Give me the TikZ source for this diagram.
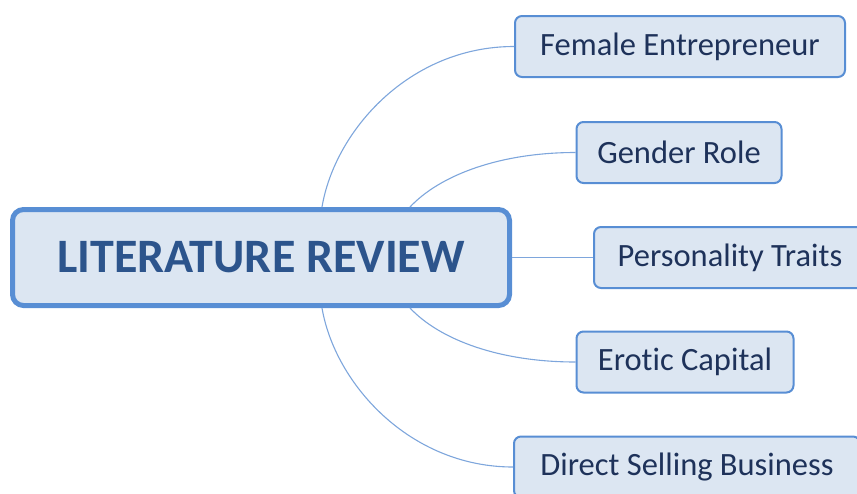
\documentclass[tikz,border=0pt]{standalone}
\usepackage{fontspec}
\setmainfont{Carlito}[Ligatures = {NoCommon, NoRequired}]
\definecolor{boxfill}{RGB}{220,230,242}
\definecolor{boxline}{RGB}{88,142,212}
\definecolor{linkline}{RGB}{126,166,220}
\definecolor{maintext}{RGB}{44,84,140}
\definecolor{subtext}{RGB}{30,50,90}
\tikzset{
    mainbox/.style = {draw = boxline, line width = 5pt, fill = boxfill, rounded corners = 11pt,
        text = maintext, font = \fontsize{48}{50}\selectfont\bfseries, inner sep = 0pt},
    subbox/.style = {draw = boxline, line width = 2pt, fill = boxfill, rounded corners = 7pt,
        text = subtext, font = \fontsize{32.5}{36}\selectfont, inner sep = 0pt,
        minimum height = 61pt},
    link/.style = {draw = linkline, line width = 1.1pt}
}
\begin{document}
\begin{tikzpicture}[x = 1pt, y = -1pt]
    \useasboundingbox (0, 0) rectangle (857, 493);

    %%centre
    \node[mainbox, minimum width = 497pt, minimum height = 96pt] (lit) at (261, 257.5){LITERATURE REVIEW};

    %%branches
    \node[subbox, minimum width = 330pt] (female) at (680, 46.5){Female Entrepreneur\hspace{6pt}};
    \node[subbox, minimum width = 205pt] (gender) at (679, 152.5){Gender Role\hspace{6pt}};
    \node[subbox, minimum width = 272pt] (person) at (730, 257.5){Personality Traits\hspace{6pt}};
    \node[subbox, minimum width = 217pt] (erotic) at (685, 362){Erotic Capital\hspace{6pt}};
    \node[subbox, minimum width = 346pt] (direct) at (687, 467){Direct Selling Business\hspace{6pt}};

    %%links
    \path[link] ([xshift = 61pt]lit.north) .. controls (335, 130) and (410, 46.5) .. (female.west);
    \path[link] ([xshift = 149pt]lit.north) .. controls (440, 175) and (500, 152.5) .. (gender.west);
    \path[link] (lit.east) -- (person.west);
    \path[link] ([xshift = 149pt]lit.south) .. controls (440, 340) and (500, 362) .. (erotic.west);
    \path[link] ([xshift = 61pt]lit.south) .. controls (335, 384) and (410, 467) .. (direct.west);

\end{tikzpicture}
\end{document}
